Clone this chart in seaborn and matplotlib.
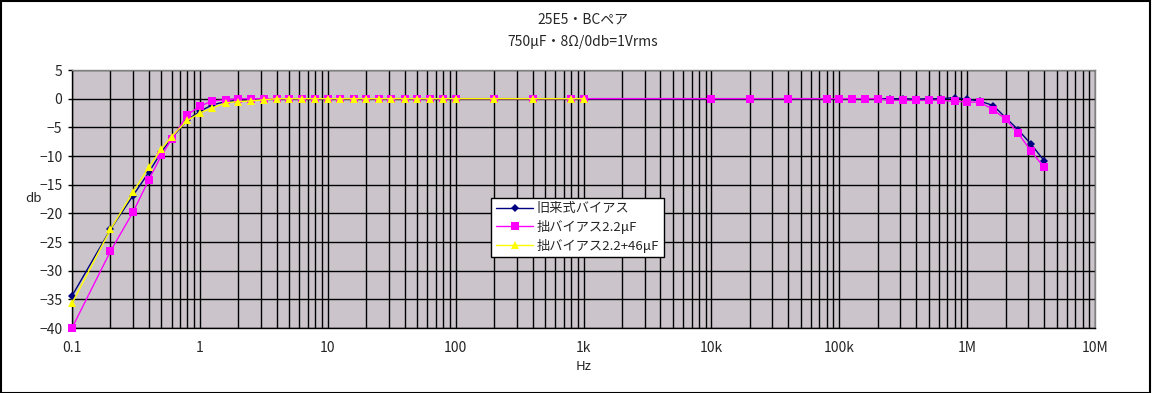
import numpy as np
import pandas as pd
import matplotlib
matplotlib.use("Agg")
import matplotlib.pyplot as plt
import seaborn as sns
from matplotlib.ticker import FixedLocator, NullFormatter
from matplotlib.patches import Rectangle

# ---------------- data ----------------
freq = [0.1, 0.2, 0.3, 0.4, 0.5, 0.6, 0.8, 1, 1.25, 1.6, 2, 2.5, 3.15, 4, 5, 6.3, 8,
        10, 12.5, 16, 20, 25, 31.5, 40, 50, 63, 80, 100, 200, 400, 800, 1000,
        10000, 20000, 40000, 80000, 100000, 125000, 160000, 200000, 250000,
        315000, 400000, 500000, 630000, 800000, 1000000, 1250000, 1600000,
        2000000, 2500000, 3150000, 4000000]

old_bias = [-34.4, -22.8, -16.9, -12.8, -9.3, -6.9, -3.7, -2.2, -1.1, -0.5, -0.3, -0.2, -0.1, 0, 0, 0, 0,
            0, 0, 0, 0, 0, 0, 0, 0, 0, 0, 0, 0, 0, 0, 0,
            0, 0, 0, 0, 0, 0, 0, 0, 0,
            0, -0.1, 0, 0, 0.2, -0.1, -0.4, -1.2,
            -3.3, -5.4, -7.9, -10.8]

bias_22 = [-40.0, -26.6, -19.8, -14.1, -9.9, -7.1, -2.8, -1.3, -0.4, -0.2, 0, 0, 0, 0, 0, 0, 0,
           0, 0, 0, 0, 0, 0, 0, 0, 0, 0, 0, 0, 0, 0, 0,
           0, 0, 0, 0, 0, 0, 0, 0, -0.3,
           -0.3, -0.3, -0.3, -0.3, -0.45, -0.6, -0.6, -1.9,
           -3.6, -6.0, -9.1, -12.0]

freq_46 = [0.1, 0.2, 0.3, 0.4, 0.5, 0.6, 0.8, 1, 1.25, 1.6, 2, 2.5, 3.15, 4, 5, 6.3, 8,
           10, 12.5, 16, 20, 25, 31.5, 40, 50, 63, 80, 100, 200, 400, 800, 1000]
bias_22_46 = [-35.7, -22.8, -16.3, -11.9, -8.8, -6.6, -3.8, -2.5, -1.6, -0.75, -0.5, -0.4, -0.2, 0, 0, 0, 0,
              0, 0, 0, 0, 0, 0, 0, 0, 0, 0, 0, 0, 0, 0, 0]

labels = ["旧来式バイアス", "拙バイアス2.2μF", "拙バイアス2.2+46μF"]
title_lines = ["25E5・BCペア", "750μF・8Ω/0db=1Vrms"]
x_ticks = [0.1, 1, 10, 100, 1e3, 1e4, 1e5, 1e6, 1e7]
x_ticklabels = ["0.1", "1", "10", "100", "1k", "10k", "100k", "1M", "10M"]
y_ticks = [5, 0, -5, -10, -15, -20, -25, -30, -35, -40]

# ---------------- style ----------------
sns.set_theme(style="white")
plt.rcParams["font.family"] = ["Noto Sans CJK JP", "DejaVu Sans"]

fig = plt.figure(figsize=(11.52, 3.93), dpi=100)
ax = fig.add_axes([72 / 1152, 1 - 328 / 393, (1095 - 72) / 1152, (328 - 70) / 393])
ax.set_facecolor("#cbc5cb")

df_old = pd.DataFrame({"Hz": freq, "db": old_bias})
df_22 = pd.DataFrame({"Hz": freq, "db": bias_22})
df_46 = pd.DataFrame({"Hz": freq_46, "db": bias_22_46})

sns.lineplot(data=df_old, x="Hz", y="db", ax=ax, color="#000080", lw=1.0,
             marker="D", markersize=4, markeredgewidth=0, label=labels[0], zorder=3, clip_on=False)
sns.lineplot(data=df_22, x="Hz", y="db", ax=ax, color="#ff00ff", lw=1.0,
             marker="s", markersize=5.5, markeredgewidth=0, label=labels[1], zorder=4, clip_on=False)
sns.lineplot(data=df_46, x="Hz", y="db", ax=ax, color="#ffff00", lw=1.0,
             marker="^", markersize=6, markeredgewidth=0, label=labels[2], zorder=5, clip_on=False)

ax.set_xscale("log")
ax.set_xlim(0.1, 1e7)
ax.set_ylim(-40, 5)

ax.xaxis.set_major_locator(FixedLocator(x_ticks))
ax.set_xticklabels(x_ticklabels)
minor = [m * d for d in [0.1, 1, 10, 100, 1e3, 1e4, 1e5, 1e6] for m in range(2, 10)]
ax.xaxis.set_minor_locator(FixedLocator(minor))
ax.xaxis.set_minor_formatter(NullFormatter())
ax.set_yticks(y_ticks)

ax.grid(True, which="major", axis="both", color="black", lw=1.0, zorder=1)
ax.grid(True, which="minor", axis="x", color="black", lw=1.0, zorder=1)
ax.set_axisbelow(True)

ax.tick_params(axis="x", which="both", length=0, pad=9, labelsize=10)
ax.tick_params(axis="y", which="major", length=3, width=1, color="black", direction="out",
               left=True, pad=4, labelsize=10)

for side in ["left", "bottom"]:
    ax.spines[side].set_color("black")
    ax.spines[side].set_linewidth(1.0)
for side in ["top", "right"]:
    ax.spines[side].set_color("#808080")
    ax.spines[side].set_linewidth(1.0)

ax.set_xlabel("Hz", fontsize=9.5, labelpad=4)
ax.set_ylabel("db", fontsize=9.5, rotation=0, va="center")
ax.yaxis.set_label_coords(-0.038, 0.5)

fig.text(583 / 1152, 1 - 20 / 393, title_lines[0], ha="center", va="center", fontsize=10)
fig.text(583 / 1152, 1 - 42 / 393, title_lines[1], ha="center", va="center", fontsize=10)

leg = ax.legend(loc="upper left", bbox_to_anchor=(0.41, 0.505), frameon=True, fancybox=False,
                shadow=False, framealpha=1, edgecolor="black", facecolor="white",
                fontsize=9.5, handlelength=2.8, handletextpad=0.3, borderpad=0.35,
                labelspacing=0.35, borderaxespad=0)
leg.get_frame().set_linewidth(1.0)
leg.set_zorder(10)

fig.patches.append(Rectangle((0.0005, 0.001), 0.998, 0.997, transform=fig.transFigure,
                             fill=False, edgecolor="black", lw=1.5))

fig.savefig("out.png", dpi=100, facecolor="white")
